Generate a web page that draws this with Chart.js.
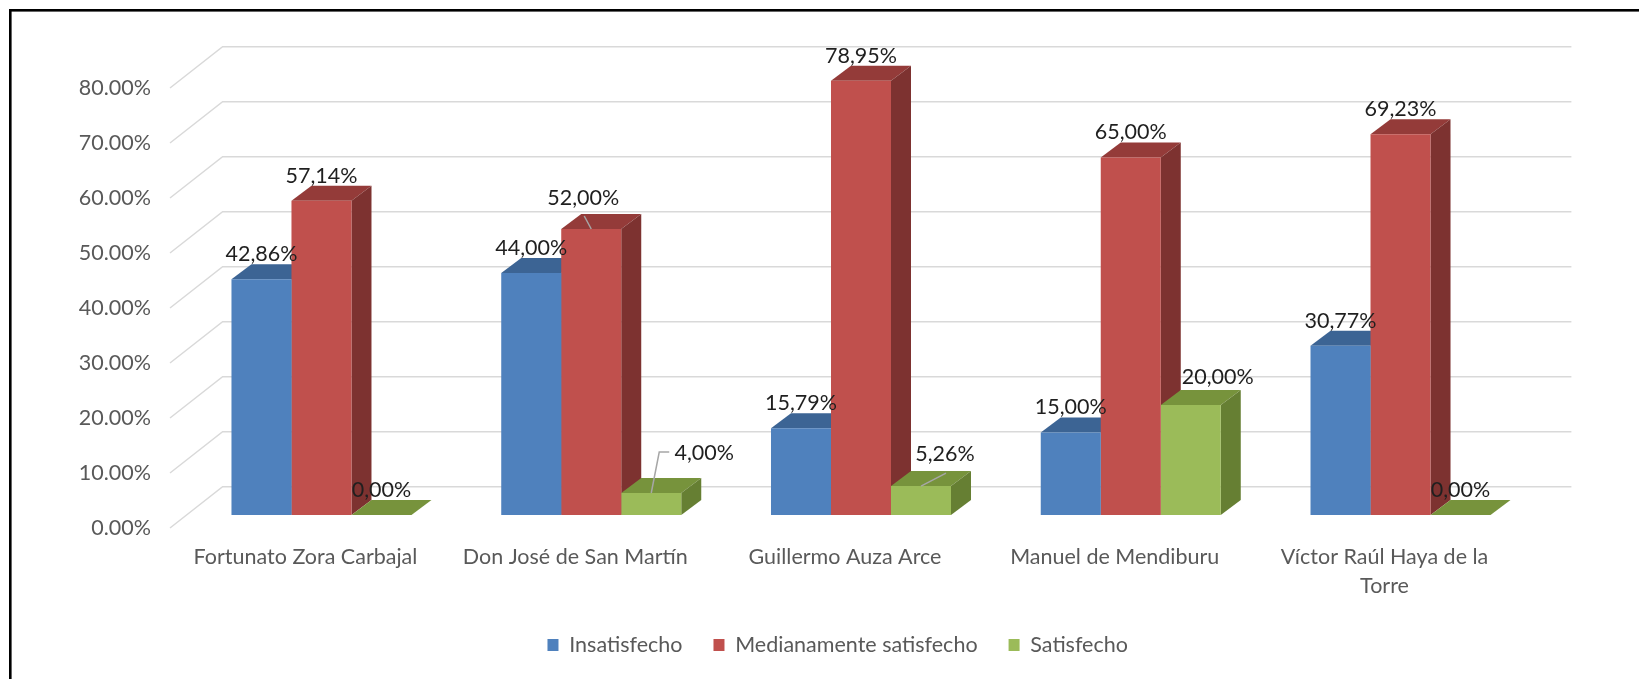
<!DOCTYPE html>
<html>
<head>
<meta charset="utf-8">
<style>
  html, body { margin: 0; padding: 0; background: #ffffff; }
  canvas { display: block; }
</style>
<script src="https://cdn.jsdelivr.net/npm/chart.js@4.4.1/dist/chart.umd.min.js"></script>
</head>
<body>
<canvas id="chart" width="1639" height="679"></canvas>
<script>
// ---- data ----
const categories = [
  'Fortunato Zora Carbajal',
  'Don José de San Martín',
  'Guillermo Auza Arce',
  'Manuel de Mendiburu',
  ['Víctor Raúl Haya de la', 'Torre']
];
const seriesNames = ['Insatisfecho', 'Medianamente satisfecho', 'Satisfecho'];
const insatisfecho = [42.86, 44.00, 15.79, 15.00, 30.77];
const medianamente = [57.14, 52.00, 78.95, 65.00, 69.23];
const satisfecho   = [0.00, 4.00, 5.26, 20.00, 0.00];
const yTicks = [0, 10, 20, 30, 40, 50, 60, 70, 80];

// ---- styling ----
const FONT = 'Lato, "Open Sans", sans-serif';
const FONT_SIZE = 21.5;
const faces = [
  { front: '#4F81BD', top: '#3C6494', side: '#385D8A' },
  { front: '#C0504D', top: '#943B39', side: '#7D3230' },
  { front: '#9BBB59', top: '#77933C', side: '#667F33' }
];
const BAR_DEPTH = { dx: 20, dy: -15 };     // depth of each box
const WALL_BACK = { dx: 36, dy: -28.3 };   // back wall relative to bar plane
const WALL_FRONT = { dx: -16.6, dy: 13 };  // front floor edge relative to bar plane
const LEGEND_SHIFT = 40;                   // horizontal nudge of the legend row

// labels that sit away from their bar (dataset-index key), with optional leader points
const labelShift = {
  '1-1': { dx: -8, dy: -31, leader: [[1, 18]] },
  '2-1': { dx: 53, dy: -40, leader: [[-35, -1], [-45, -1]] },
  '2-2': { dx: 24, dy: -32, leader: [[1, 19]] },
  '2-3': { dx: 27, dy: -28 }
};

const fmtPct = v => v.toFixed(2).replace('.', ',') + '%';

const box3d = {
  id: 'box3d',
  afterLayout(chart) {
    const lg = chart.legend;
    if (lg) { lg.left += LEGEND_SHIFT; lg.right += LEGEND_SHIFT; }
  },
  beforeDatasetsDraw(chart) {
    const { ctx, chartArea: a, scales: { y } } = chart;
    ctx.save();
    // side wall diagonals and back wall lines
    ctx.strokeStyle = '#D9D9D9';
    ctx.lineWidth = 1.5;
    y.ticks.forEach(t => {
      const py = y.getPixelForValue(t.value);
      ctx.beginPath();
      ctx.moveTo(a.left + WALL_FRONT.dx, py + WALL_FRONT.dy);
      ctx.lineTo(a.left + WALL_BACK.dx, py + WALL_BACK.dy);
      ctx.lineTo(a.right + WALL_BACK.dx, py + WALL_BACK.dy);
      ctx.stroke();
    });
    // top and side faces, left to right within each group
    const metas = chart.data.datasets.map((d, i) => chart.getDatasetMeta(i));
    for (let j = 0; j < categories.length; j++) {
      metas.forEach((m, i) => {
        const el = m.data[j];
        if (!el) return;
        const { x, y: top, base, width } = el.getProps(['x', 'y', 'base', 'width'], true);
        const l = x - width / 2, r = x + width / 2;
        const c = faces[i];
        ctx.fillStyle = c.top;
        ctx.beginPath();
        ctx.moveTo(l, top);
        ctx.lineTo(r, top);
        ctx.lineTo(r + BAR_DEPTH.dx, top + BAR_DEPTH.dy);
        ctx.lineTo(l + BAR_DEPTH.dx, top + BAR_DEPTH.dy);
        ctx.closePath();
        ctx.fill();
        if (base - top > 0.5) {
          ctx.fillStyle = c.side;
          ctx.beginPath();
          ctx.moveTo(r, top);
          ctx.lineTo(r + BAR_DEPTH.dx, top + BAR_DEPTH.dy);
          ctx.lineTo(r + BAR_DEPTH.dx, base + BAR_DEPTH.dy);
          ctx.lineTo(r, base);
          ctx.closePath();
          ctx.fill();
        }
      });
    }
    ctx.restore();
  },
  afterDatasetsDraw(chart) {
    const { ctx } = chart;
    ctx.save();
    ctx.font = FONT_SIZE + 'px ' + FONT;
    ctx.textAlign = 'center';
    ctx.textBaseline = 'middle';
    chart.data.datasets.forEach((ds, i) => {
      const meta = chart.getDatasetMeta(i);
      meta.data.forEach((el, j) => {
        const { x, y } = el.getProps(['x', 'y'], true);
        const s = labelShift[i + '-' + j] || { dx: 0, dy: -25 };
        const lx = x + s.dx, ly = y + s.dy;
        if (s.leader) {
          ctx.strokeStyle = '#A6A6A6';
          ctx.lineWidth = 1.5;
          ctx.beginPath();
          s.leader.forEach((p, k) => {
            if (k === 0) ctx.moveTo(lx + p[0], ly + p[1]);
            else ctx.lineTo(lx + p[0], ly + p[1]);
          });
          ctx.lineTo(x, y);
          ctx.stroke();
        }
        ctx.fillStyle = '#1F1F1F';
        ctx.fillText(fmtPct(ds.data[j]), lx, ly);
      });
    });
    ctx.restore();
  },
  afterDraw(chart) {
    const { ctx, width, height } = chart;
    ctx.save();
    ctx.fillStyle = '#000000';
    ctx.fillRect(9, 9, width - 9, 2.6);
    ctx.fillRect(9, 9, 2.6, height - 9);
    ctx.restore();
  }
};

new Chart(document.getElementById('chart'), {
  type: 'bar',
  data: {
    labels: categories,
    datasets: [
      { label: seriesNames[0], data: insatisfecho, backgroundColor: faces[0].front },
      { label: seriesNames[1], data: medianamente, backgroundColor: faces[1].front },
      { label: seriesNames[2], data: satisfecho, backgroundColor: faces[2].front }
    ]
  },
  options: {
    responsive: false,
    animation: false,
    devicePixelRatio: 1,
    categoryPercentage: 0.6673,
    barPercentage: 1,
    layout: { padding: { left: 60, right: 103.6, top: 75, bottom: 13.25 } },
    plugins: {
      legend: {
        position: 'bottom',
        labels: {
          boxWidth: 11,
          boxHeight: 12,
          padding: 31,
          color: '#595959',
          font: { family: FONT, size: FONT_SIZE }
        }
      },
      tooltip: { enabled: false }
    },
    scales: {
      x: {
        grid: { display: false, drawTicks: false },
        border: { display: false },
        ticks: {
          color: '#595959',
          font: { family: FONT, size: FONT_SIZE, lineHeight: 1.363 },
          padding: 27,
          labelOffset: -16,
          maxRotation: 0,
          autoSkip: false
        },
        afterFit(s) { s.height = 88.25; }
      },
      y: {
        min: 0,
        max: 80,
        grid: { display: false, drawTicks: false },
        border: { display: false },
        afterBuildTicks(s) { s.ticks = yTicks.map(v => ({ value: v })); },
        ticks: {
          color: '#595959',
          font: { family: FONT, size: FONT_SIZE },
          padding: 35.6,
          labelOffset: 13,
          callback: v => v.toFixed(2) + '%'
        },
        afterFit(s) { s.width = 126.6; }
      }
    }
  },
  plugins: [box3d]
});
</script>
</body>
</html>
